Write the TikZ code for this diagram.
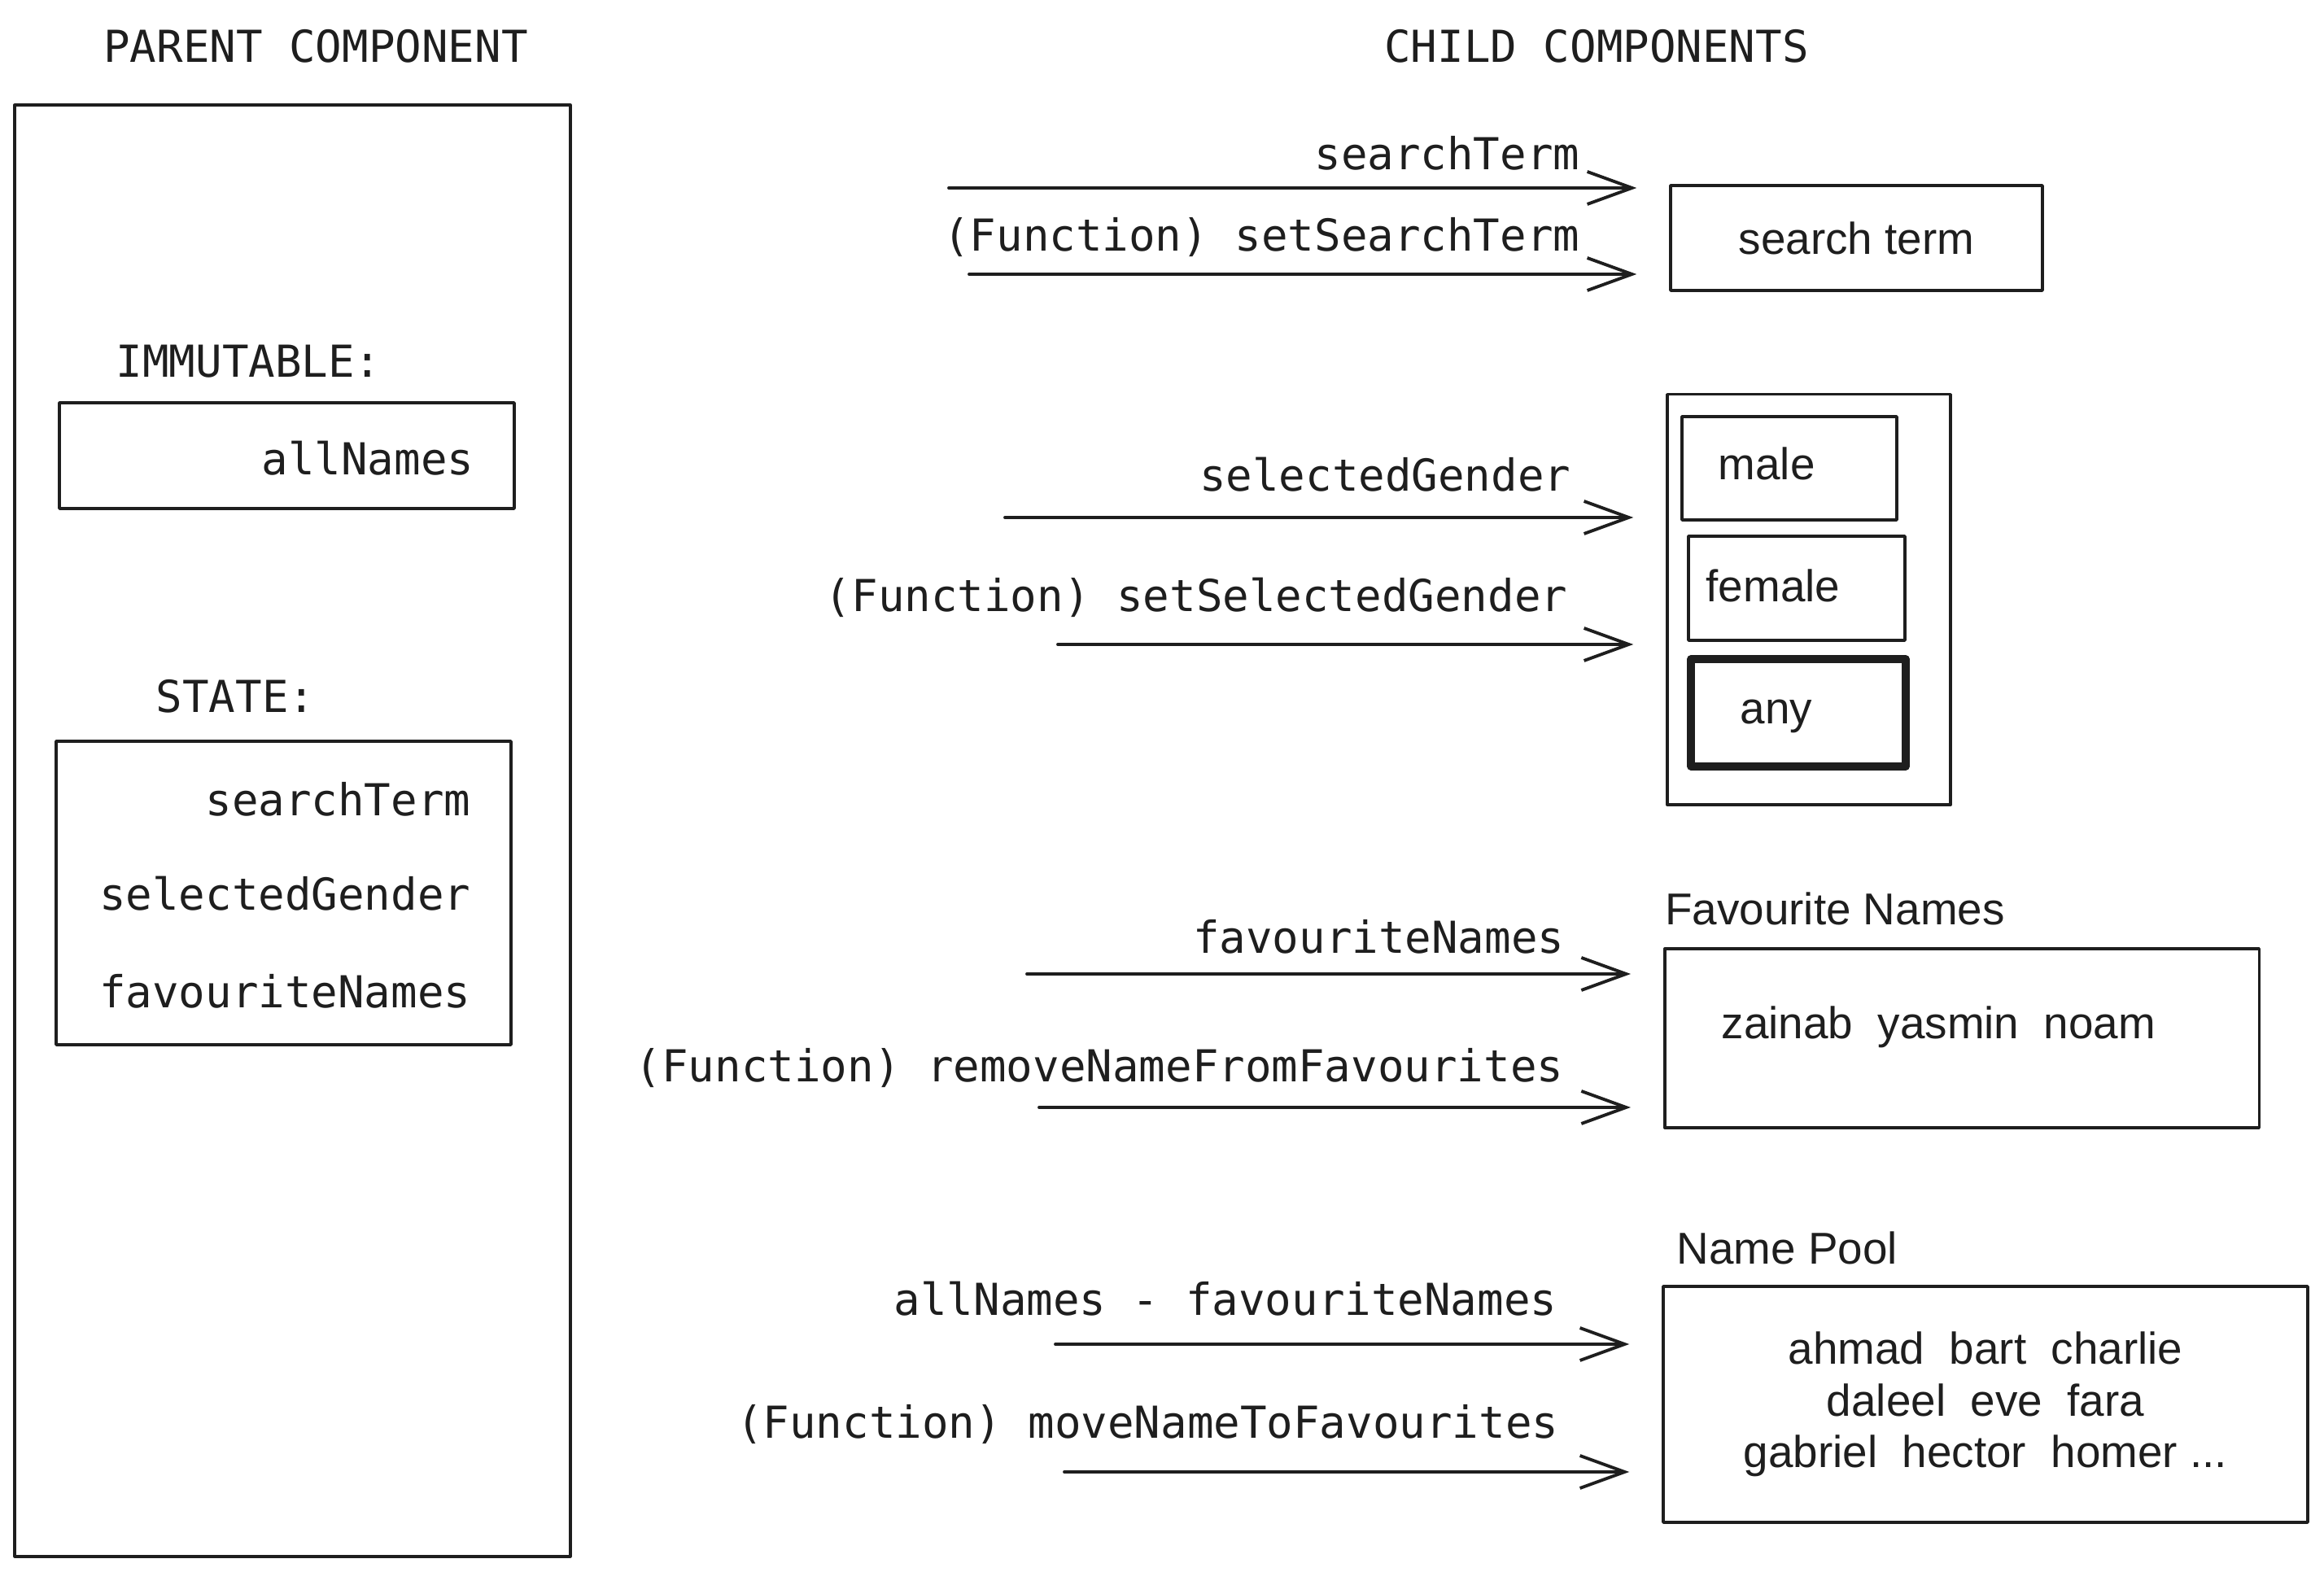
\documentclass[tikz,border=0pt]{standalone}
\usepackage{fontspec}
\setmainfont{Liberation Sans}
\setmonofont{DejaVu Sans Mono}
\usepackage{xcolor}
\usepackage{tikz}
\usetikzlibrary{arrows.meta,positioning}
\definecolor{uiInk}{HTML}{1E1E1E}
\tikzset{
  ui diagram/.style={text=uiInk, line cap=round, line join=round},
  ui box/.style={draw=uiInk, line width=1pt, inner sep=0pt},
  ui key box/.style={ui box, line width=2.6pt},
  ui arrow/.style={-{Straight Barb[length=5.5mm,width=4mm]}, draw=uiInk,
    line width=1.1pt, shorten >=4mm},
  ui code/.style={font=\ttfamily\fontsize{15.4}{18}\selectfont, inner sep=0pt},
  ui text/.style={font=\fontsize{15.6}{18.1}\selectfont, inner sep=0pt}
}

\begin{document}
\begin{tikzpicture}[ui diagram]
\useasboundingbox (0,0) rectangle (28.56,19.32);
\node[ui code] (parent title) at (3.88,18.755) {PARENT COMPONENT};
\node[ui code] (child title) at (19.62,18.755) {CHILD COMPONENTS};
\node[ui box, minimum width=6.83cm, minimum height=17.835cm] (parent) at (3.595,9.11) {};
\node[ui code, anchor=west] (immutable) at (1.42,14.88) {IMMUTABLE:};
\node[ui box, minimum width=5.59cm, minimum height=1.3cm] (fixed) at (3.525,13.72) {};
\node[ui code, anchor=east] (all names) at (5.83,13.69) {allNames};
\node[ui code, anchor=west] (state) at (1.91,10.76) {STATE:};
\node[ui box, minimum width=5.59cm, minimum height=3.73cm] (state box) at (3.485,8.345) {};
\node[ui code, anchor=east] (st term) at (5.79,9.50) {searchTerm};
\node[ui code, anchor=east] (st gender) at (5.79,8.34) {selectedGender};
\node[ui code, anchor=east] (st favs) at (5.79,7.135) {favouriteNames};

\node[ui box, ui text, minimum width=4.57cm, minimum height=1.29cm] (term) at (22.815,16.395) {search term};
\node[ui box, minimum width=3.48cm, minimum height=5.045cm] (gender) at (22.23,11.95) {};
\node[ui box, minimum width=2.64cm, minimum height=1.27cm] (male) at (21.99,13.565) {};
\node[ui box, minimum width=2.66cm, minimum height=1.28cm] (female) at (22.08,12.09) {};
\node[ui key box, minimum width=2.64cm, minimum height=1.32cm] (any) at (22.10,10.56) {};
\node[ui text, anchor=west] (male text) at (21.11,13.62) {male};
\node[ui text, anchor=west] (female text) at (20.96,12.12) {female};
\node[ui text, anchor=west] (any text) at (21.38,10.52) {any};
\node[ui text, anchor=west] (favs title) at (20.455,8.155) {Favourite Names};
\node[ui box, minimum width=7.305cm, minimum height=2.2cm] (favs) at (24.11,6.56) {};
\node[ui text, anchor=west] (favs text) at (21.15,6.70) {zainab\ \ yasmin\ \ noam};
\node[ui text, anchor=west] (pool title) at (20.60,3.98) {Name Pool};
\node[ui box, ui text, align=center, minimum width=7.92cm, minimum height=2.9cm] (pool) at (24.40,2.06)
  {ahmad\ \ bart\ \ charlie\\daleel\ \ eve\ \ fara\\gabriel\ \ hector\ \ homer ...};

\node[ui code, anchor=east] (term prop) at (19.42,17.44) {searchTerm};
\node[ui code, anchor=east] (term fn) at (19.42,16.40) {(Function) setSearchTerm};
\node[ui code, anchor=east] (gender prop) at (19.31,13.49) {selectedGender};
\node[ui code, anchor=east] (gender fn) at (19.27,11.98) {(Function) setSelectedGender};
\node[ui code, anchor=east] (favs prop) at (19.23,7.81) {favouriteNames};
\node[ui code, anchor=east] (favs fn) at (19.22,6.19) {(Function) removeNameFromFavourites};
\node[ui code, anchor=east] (pool prop) at (19.14,3.36) {allNames - favouriteNames};
\node[ui code, anchor=east] (pool fn) at (19.16,1.81) {(Function) moveNameToFavourites};

\coordinate (term in) at (11.66,17.01);
\coordinate (term set) at (11.91,15.95);
\coordinate (gender in) at (12.35,12.96);
\coordinate (gender set) at (13.00,11.40);
\coordinate (favs in) at (12.62,7.35);
\coordinate (favs set) at (12.77,5.71);
\coordinate (pool in) at (12.97,2.80);
\coordinate (pool set) at (13.08,1.23);
\draw[ui arrow] (term in) -- (term in -| term.west);
\draw[ui arrow] (term set) -- (term set -| term.west);
\draw[ui arrow] (gender in) -- (gender in -| gender.west);
\draw[ui arrow] (gender set) -- (gender set -| gender.west);
\draw[ui arrow] (favs in) -- (favs in -| favs.west);
\draw[ui arrow] (favs set) -- (favs set -| favs.west);
\draw[ui arrow] (pool in) -- (pool in -| pool.west);
\draw[ui arrow] (pool set) -- (pool set -| pool.west);
\end{tikzpicture}
\end{document}
